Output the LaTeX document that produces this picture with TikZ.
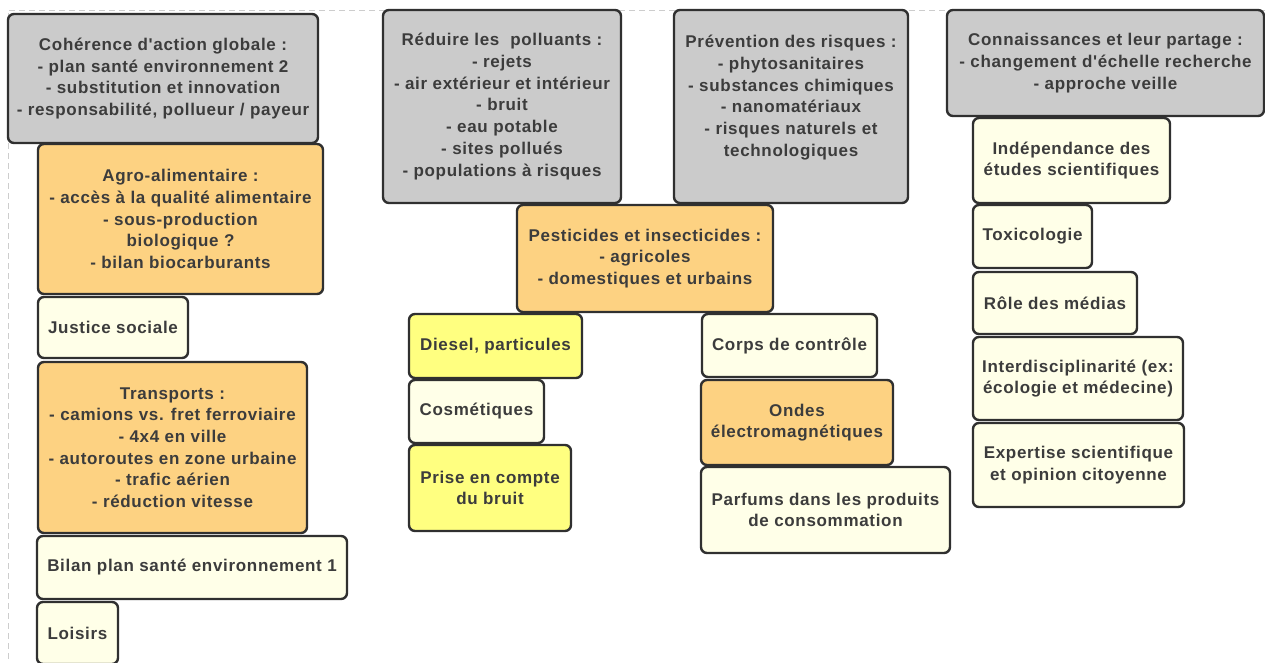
\documentclass[tikz,border=0pt]{standalone}
\usepackage{fontspec}
\defaultfontfeatures{}
\newfontfamily\boxfont{Liberation Sans}[LetterSpace=4]
\definecolor{bordc}{RGB}{48,48,48}
\definecolor{txtc}{RGB}{60,60,60}
\definecolor{grayc}{RGB}{203,203,203}
\definecolor{orangec}{RGB}{253,210,130}
\definecolor{palec}{RGB}{255,255,232}
\definecolor{yellowc}{RGB}{255,255,128}
\definecolor{dashc}{RGB}{205,205,205}
\tikzset{
  mmbox/.style={draw=bordc, line width=2.4pt, rounded corners=6pt, inner sep=0pt,
    align=center, text=txtc, font=\boxfont\bfseries\fontsize{17}{21.7}\selectfont},
  graybox/.style={mmbox, fill=grayc},
  orangebox/.style={mmbox, fill=orangec},
  palebox/.style={mmbox, fill=palec},
  yellowbox/.style={mmbox, fill=yellowc},
  frameline/.style={draw=dashc, line width=0.8pt, dash pattern=on 6pt off 4pt}
}
% name, style, x1, y1, x2, y2, text
\newcommand\mmnode[7]{%
  \node[#2, minimum width={(#5-#3)*1pt}, minimum height={(#6-#4)*1pt}]
    (#1) at ({(#3+#5)/2},{(#4+#6)/2}) {#7};}
\begin{document}
\begin{tikzpicture}[x=1pt,y=-1pt]
\useasboundingbox (0,0) rectangle (1265,662);
\clip (0,0) rectangle (1265,662);
\fill[white] (0,0) rectangle (1265,662);
\coordinate (tl) at (8,10);
\coordinate (tr) at (1265,10);
\coordinate (bl) at (8,662);
\draw[frameline] (tr) -- (tl) -- (bl);

% left column
\mmnode{coh}{graybox}{8}{14}{318}{143}{Cohérence d'action globale :\\- plan santé environnement 2\\- substitution et innovation\\- responsabilité, pollueur / payeur}
\mmnode{agro}{orangebox}{38}{144}{323}{294}{Agro-alimentaire :\\- accès à la qualité alimentaire\\- sous-production\\biologique ?\\- bilan biocarburants}
\mmnode{just}{palebox}{38}{297}{188}{358}{Justice sociale}
\mmnode{trans}{orangebox}{38}{362}{307}{533}{Transports :\\- camions vs. fret ferroviaire\\- 4x4 en ville\\- autoroutes en zone urbaine\\- trafic aérien\\- réduction vitesse}
\mmnode{bilan}{palebox}{37}{536}{347}{599}{Bilan plan santé environnement 1}
\mmnode{lois}{palebox}{37}{602}{118}{664}{Loisirs}

% middle column
\mmnode{red}{graybox}{383}{10}{621}{203}{Réduire les~ polluants :\\- rejets\\- air extérieur et intérieur\\- bruit\\- eau potable\\- sites pollués\\- populations à risques}
\mmnode{prev}{graybox}{674}{10}{908}{203}{Prévention des risques :\\- phytosanitaires\\- substances chimiques\\- nanomatériaux\\- risques naturels et\\technologiques\\\mbox{}}
\mmnode{pest}{orangebox}{517}{205}{773}{312}{Pesticides et insecticides :\\- agricoles\\- domestiques et urbains}
\mmnode{dies}{yellowbox}{409}{314}{582}{378}{Diesel, particules}
\mmnode{cosm}{palebox}{409}{380}{544}{443}{Cosmétiques}
\mmnode{prise}{yellowbox}{409}{445}{571}{531}{Prise en compte\\du bruit}
\mmnode{corps}{palebox}{702}{314}{877}{377}{Corps de contrôle}
\mmnode{ondes}{orangebox}{701}{380}{893}{465}{Ondes\\électromagnétiques}
\mmnode{parf}{palebox}{701}{467}{950}{553}{Parfums dans les produits\\de consommation}

% right column
\mmnode{conn}{graybox}{947}{10}{1264}{116}{Connaissances et leur partage :\\- changement d'échelle recherche\\- approche veille}
\mmnode{indep}{palebox}{973}{118}{1170}{203}{Indépendance des\\études scientifiques}
\mmnode{toxi}{palebox}{973}{205}{1092}{268}{Toxicologie}
\mmnode{role}{palebox}{973}{272}{1137}{334}{Rôle des médias}
\mmnode{inter}{palebox}{973}{337}{1183}{420}{Interdisciplinarité (ex:\\écologie et médecine)}
\mmnode{expe}{palebox}{973}{423}{1184}{507}{Expertise scientifique\\et opinion citoyenne}
\end{tikzpicture}
\end{document}
